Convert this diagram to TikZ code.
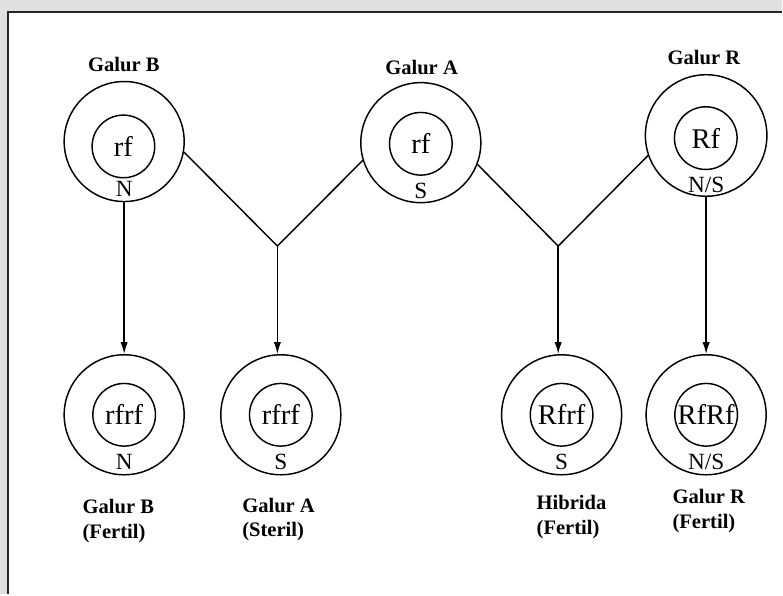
\documentclass[tikz,border=0pt]{standalone}
\usepackage{fontspec}
\setmainfont{Liberation Serif}
\usepackage{tikz}
\usetikzlibrary{arrows.meta}

\tikzset{
  luar/.style={circle,draw,line width=1.1pt,minimum size=3.18cm,inner sep=0pt},
  dalam/.style={circle,draw,line width=1.1pt,minimum size=1.66cm,inner sep=0pt,font=\fontsize{21.5}{21.5}\selectfont},
  sito/.style={anchor=base,inner sep=0pt,font=\fontsize{17.5}{17.5}\selectfont},
  judul/.style={anchor=base,inner sep=0pt,font=\fontsize{15.5}{18.75}\selectfont\bfseries},
  ket/.style={anchor=north west,align=left,inner sep=0pt,font=\fontsize{15.5}{18.75}\selectfont\bfseries},
}

\begin{document}
\begin{tikzpicture}[>={Latex[length=9pt,width=5.5pt]},line width=1.1pt]
        \fill[black!12] (0,0) rectangle (20.72,15.74);
        \fill[white] (0.22,0) rectangle (20.72,15.41);
        \draw[black!85,line width=1.5pt] (0.22,0)--(0.22,15.41)--(20.72,15.41);
        \useasboundingbox (0,0) rectangle (20.72,15.74);
        % tetua
        \node[luar] (galurB) at (3.29,11.99) {};
        \node[dalam] (galurBin) at (3.27,11.86) {rf};
        \node[sito] at ([yshift=0.14cm]galurB.south) {N};
        \node[judul] (tB) at (3.28,13.84) {Galur B};
        \node[luar] (galurA) at (11.15,11.96) {};
        \node[dalam] (galurAin) at (11.15,11.93) {rf};
        \node[sito] at ([yshift=0.14cm]galurA.south) {S};
        \node[judul] (tA) at (11.17,13.76) {Galur A};
        \node[luar,minimum size=3.22cm] (galurR) at (18.71,12.15) {};
        \node[dalam] (galurRin) at (18.70,12.08) {Rf};
        \node[sito] at ([yshift=0.12cm]galurR.south) {N/S};
        \node[judul] (tR) at (18.65,14.02) {Galur R};
        % keturunan
        \node[luar] (turunanB) at (3.29,4.75) {};
        \node[dalam] (turunanBin) at (3.29,4.75) {rfrf};
        \node[sito] at ([yshift=0.17cm]turunanB.south) {N};
        \node[luar] (turunanA) at (7.44,4.75) {};
        \node[dalam] (turunanAin) at (7.44,4.75) {rfrf};
        \node[sito] at ([yshift=0.17cm]turunanA.south) {S};
        \node[luar] (hibrida) at (14.88,4.75) {};
        \node[dalam] (hibridaIn) at (14.88,4.75) {Rfrf};
        \node[sito] at ([yshift=0.17cm]hibrida.south) {S};
        \node[luar] (turunanR) at (18.71,4.75) {};
        \node[dalam] (turunanRin) at (18.71,4.75) {RfRf};
        \node[sito] at ([yshift=0.17cm]turunanR.south) {N/S};
        \node[ket] (kB) at (2.17,2.53) {Galur B\\(Fertil)};
        \node[ket] (kA) at (6.40,2.57) {Galur A\\(Steril)};
        \node[ket] (kH) at (14.20,2.64) {Hibrida\\(Fertil)};
        \node[ket] (kR) at (17.80,2.80) {Galur R\\(Fertil)};
        % persilangan
        \coordinate (j1) at (7.35,9.22);
        \coordinate (j2) at (14.79,9.22);
        \draw (galurB.-10)--(j1)--(galurA.197);
        \draw (galurA.-21)--(j2)--(galurR.199);
        \draw[->] (j1)--(j1|-turunanA.north);
        \draw[->] (j2)--(j2|-hibrida.north);
        \draw[->] (galurB.south)--(turunanB.north);
        \draw[->] (galurR.south)--(turunanR.north);
\end{tikzpicture}
\end{document}
